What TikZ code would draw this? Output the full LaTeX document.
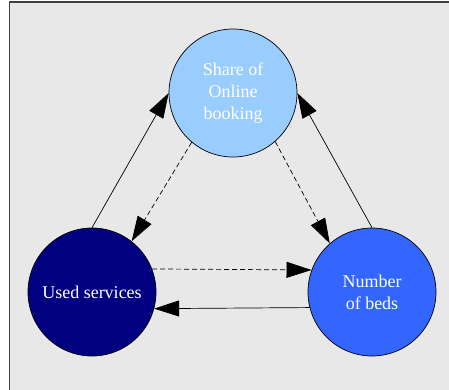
\documentclass[tikz,border=0pt]{standalone}
\usepackage{fontspec}
\setmainfont{Liberation Serif}
\usetikzlibrary{arrows.meta}
\definecolor{loopPaper}{HTML}{E8E8E8}
\definecolor{loopSky}{HTML}{99CCFF}
\definecolor{loopNavy}{HTML}{000080}
\definecolor{loopRoyal}{HTML}{3366FF}

\begin{document}
\begin{tikzpicture}[x=1pt,y=1pt,font=\fontsize{18}{22}\selectfont,
    factor/.style={circle,draw=black,line width=0.7pt,minimum size=128pt,
                   inner sep=0pt,align=center,text=white},
    arr/.style={-{Triangle[length=25pt,width=16pt]},black,line width=0.7pt},
    darr/.style={arr,dash pattern=on 5pt off 3pt}]

  \useasboundingbox (0,0) rectangle (449,389);
  \begin{scope}
    \clip (0,0) rectangle (449,389);
    \draw[fill=loopPaper,draw=black!75,line width=1.2pt] (9.5,-10) rectangle (460,387);
  \end{scope}

  \node[factor,fill=loopSky]   (share) at (233,296) {Share of\\Online\\booking};
  \node[factor,fill=loopNavy]  (used)  at (92,97)   {Used services};
  \node[factor,fill=loopRoyal] (beds)  at (372,97)  {Number\\of beds};

  \draw[arr] (used.north) -- (share.west);
  \draw[arr] (beds.north) -- (share.east);
  \draw[darr] (share.230) -- (used.52);
  \draw[darr] (share.311) -- (beds.131);
  \draw[darr] (used.21) -- (beds.160);
  \draw[arr] (beds.194) -- (used.345);
\end{tikzpicture}
\end{document}
